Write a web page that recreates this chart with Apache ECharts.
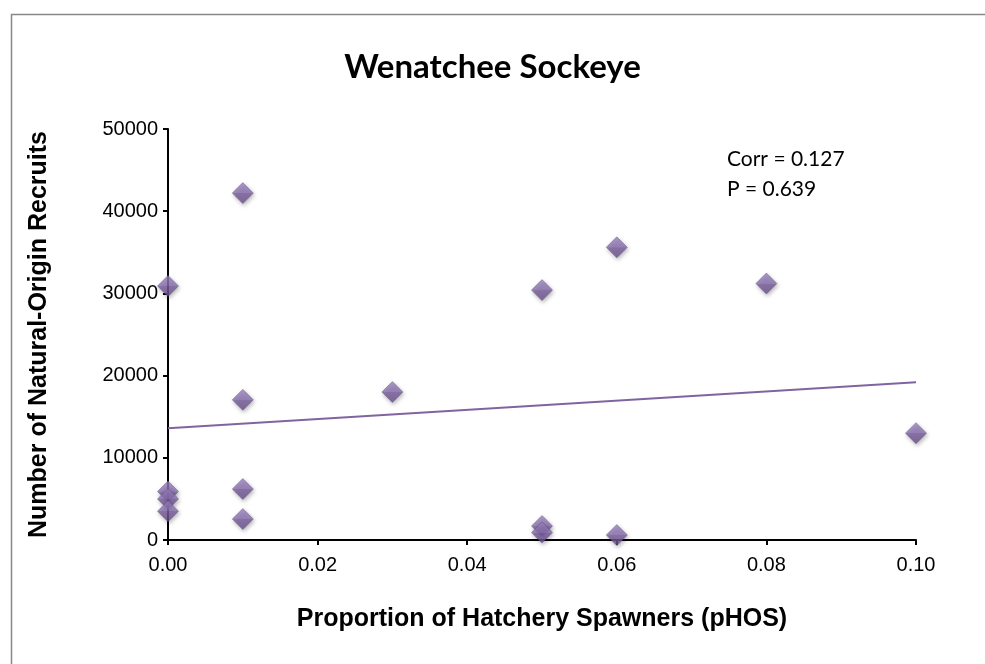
<!DOCTYPE html>
<html>
<head>
<meta charset="utf-8">
<script src="https://cdn.jsdelivr.net/npm/echarts@6/dist/echarts.min.js"></script>
<style>
  html, body { margin: 0; padding: 0; background: #fff; }
  #chart { width: 985px; height: 664px; }
</style>
</head>
<body>
<div id="chart"></div>
<script>
// pHOS values and natural-origin recruits
var pHOS = [0, 0, 0, 0, 0.01, 0.01, 0.01, 0.01, 0.03, 0.05, 0.05, 0.05, 0.06, 0.06, 0.08, 0.10];
var recruits = [30900, 5900, 5000, 3500, 42200, 17050, 6200, 2550, 18000, 30400, 1700, 900, 35600, 600, 31200, 13000];

// trend line end points
var trendX = [0, 0.10];
var trendY = [13600, 19200];

var xTicks = ['0.00', '0.02', '0.04', '0.06', '0.08', '0.10'];

var points = [];
for (var i = 0; i < pHOS.length; i++) {
    points.push([pHOS[i], recruits[i]]);
}
var trend = [];
for (var j = 0; j < trendX.length; j++) {
    trend.push([trendX[j], trendY[j]]);
}

var myChart = echarts.init(document.getElementById('chart'));
var option = {
    backgroundColor: '#fff',
    animation: false,
    title: {
        text: 'Wenatchee Sockeye',
        left: 'center',
        top: 46,
        textStyle: {
            fontFamily: 'Lato',
            fontWeight: 'bold',
            fontSize: 33,
            color: '#000'
        }
    },
    grid: {
        left: 168,
        right: 69,
        top: 129,
        bottom: 124
    },
    xAxis: {
        type: 'value',
        min: 0,
        max: 0.1,
        interval: 0.02,
        name: 'Proportion of Hatchery Spawners (pHOS)',
        nameLocation: 'middle',
        nameGap: 67,
        nameTextStyle: {
            fontFamily: 'Liberation Sans',
            fontWeight: 'bold',
            fontSize: 25,
            color: '#000'
        },
        axisLine: { show: true, lineStyle: { color: '#000', width: 2 } },
        axisTick: { show: true, length: 5, lineStyle: { color: '#000', width: 2 } },
        splitLine: { show: false },
        axisLabel: {
            fontFamily: 'Liberation Sans',
            fontSize: 20,
            color: '#000',
            margin: 15,
            formatter: function (v) {
                return xTicks[Math.round(v / 0.02)];
            }
        }
    },
    yAxis: {
        type: 'value',
        min: 0,
        max: 50000,
        interval: 10000,
        name: 'Number of Natural-Origin Recruits',
        nameLocation: 'middle',
        nameGap: 116,
        nameTextStyle: {
            fontFamily: 'Liberation Sans',
            fontWeight: 'bold',
            fontSize: 25,
            color: '#000'
        },
        axisLine: { show: true, lineStyle: { color: '#000', width: 2 } },
        axisTick: { show: true, length: 5, lineStyle: { color: '#000', width: 2 } },
        splitLine: { show: false },
        axisLabel: {
            fontFamily: 'Liberation Sans',
            fontSize: 20,
            color: '#000',
            margin: 10,
            formatter: function (v) {
                return String(v);
            }
        }
    },
    graphic: [
        {
            type: 'rect',
            left: 9,
            top: 12,
            shape: { width: 1000, height: 700 },
            style: { fill: 'none', stroke: '#888', lineWidth: 1.5 },
            silent: true
        },
        {
            type: 'text',
            left: 727,
            top: 144,
            style: {
                text: 'Corr = 0.127\nP = 0.639',
                font: '21px Lato',
                lineHeight: 30,
                fill: '#000'
            }
        }
    ],
    series: [
        {
            type: 'line',
            data: trend,
            symbol: 'none',
            lineStyle: { color: '#8064A2', width: 2 },
            z: 2
        },
        {
            type: 'scatter',
            data: points,
            symbol: 'diamond',
            symbolSize: [21, 21],
            itemStyle: {
                color: new echarts.graphic.LinearGradient(0, 0, 0, 1, [
                    { offset: 0, color: '#9c84c2' },
                    { offset: 0.5, color: '#8a6fb0' },
                    { offset: 0.51, color: '#7a5e9e' },
                    { offset: 1, color: '#6a4f8c' }
                ]),
                borderColor: '#5b4579',
                borderWidth: 0.5,
                shadowBlur: 4,
                shadowColor: 'rgba(0,0,0,0.35)',
                shadowOffsetX: 1,
                shadowOffsetY: 2
            },
            z: 3
        }
    ]
};
myChart.setOption(option);
</script>
</body>
</html>
